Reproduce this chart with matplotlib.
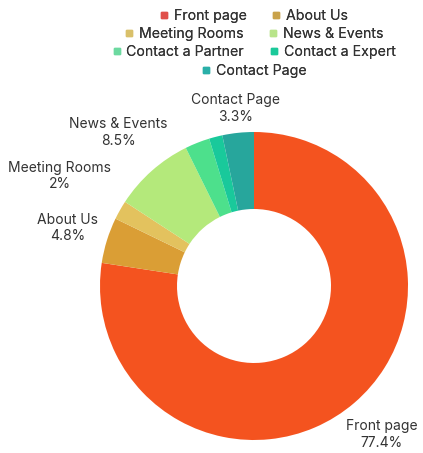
import matplotlib.pyplot as plt
from matplotlib.lines import Line2D
import numpy as np

plt.rcParams['font.family'] = ['Inter', 'DejaVu Sans']

# data
pages = ["Front page", "About Us", "Meeting Rooms", "News & Events",
         "Contact a Partner", "Contact a Expert", "Contact Page"]
shares = [77.4, 4.8, 2.0, 8.5, 2.6, 1.4, 3.3]
shown = [True, True, True, True, False, False, True]

colors = ["#F4531F", "#DA9E35", "#E3C25E", "#B4E97B",
          "#4DE08C", "#19C99B", "#27A69C"]
legend_colors = ["#E0504A", "#C9A24A", "#D9C06A", "#B8E48A",
                 "#6CD9A0", "#1BC99A", "#2AAFA8"]
label_dist = [1.27, 1.27, 1.45, 1.33, 1.2, 1.2, 1.16]

W, H = 423, 453
fig = plt.figure(figsize=(W / 100, H / 100), dpi=100)
ax = fig.add_axes([0, 0, 1, 1])

cx, cy, R = 254, H - 286, 154
wedges, _ = ax.pie(shares, colors=colors, startangle=90, counterclock=False,
                   center=(cx, cy), radius=R, frame=True,
                   wedgeprops=dict(width=R * 0.5, linewidth=0))
ax.set_xlim(0, W)
ax.set_ylim(0, H)
ax.axis("off")

for w, name, val, show, d in zip(wedges, pages, shares, shown, label_dist):
    if not show:
        continue
    ang = np.deg2rad((w.theta1 + w.theta2) / 2)
    x = cx + d * R * np.cos(ang)
    y = cy + d * R * np.sin(ang)
    ax.text(x, y, f"{name}\n{val:g}%", ha="center", va="center",
            fontsize=10, color="#333333", linespacing=1.25)

# legend, one centred row at a time
rows = [[0, 1], [2, 3], [4, 5], [6]]
for i, row in enumerate(rows):
    handles = [Line2D([], [], marker="s", ls="", markersize=5,
                      color=legend_colors[k]) for k in row]
    leg = fig.legend(handles, [pages[k] for k in row], ncol=len(row),
                     loc="center", bbox_to_anchor=(254 / W, 1 - (16 + 18.2 * i) / H),
                     frameon=False, fontsize=10.2, handlelength=0.6,
                     handletextpad=0.4, columnspacing=1.8,
                     borderpad=0, labelcolor="#333333")
    fig.add_artist(leg)

fig.savefig("out.png", dpi=100, facecolor="white")
